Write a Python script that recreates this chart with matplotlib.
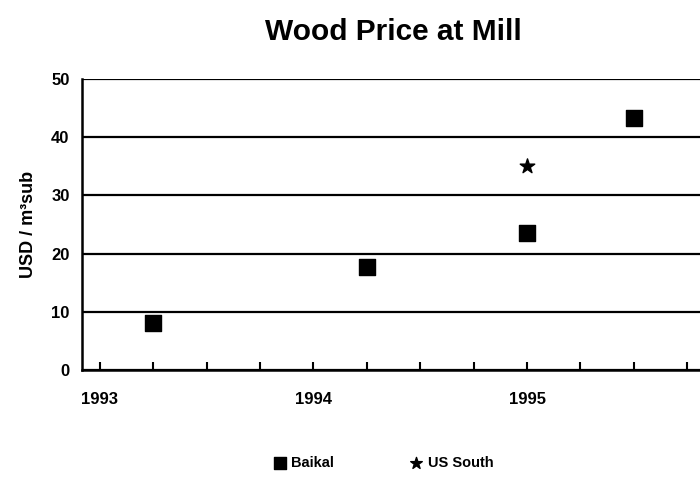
import matplotlib
matplotlib.use("Agg")
import matplotlib.pyplot as plt
from matplotlib.ticker import FixedLocator

plt.rcParams['font.family'] = ['Liberation Sans', 'DejaVu Sans']
plt.rcParams['font.weight'] = 'bold'

baikal_x = [1993.25, 1994.25, 1995.0, 1995.5]
baikal_y = [8.0, 17.7, 23.5, 43.3]
us_south_x = [1995.0]
us_south_y = [35.0]
year_ticks = [1993, 1994, 1995]
quarter_ticks = [1993 + 0.25 * i for i in range(12)]
y_ticks = [0, 10, 20, 30, 40, 50]

fig = plt.figure(figsize=(7, 4.96), dpi=100)
ax = fig.add_axes([82 / 700, 126 / 496, 1 - 82 / 700, 291 / 496])

ax.scatter(baikal_x, baikal_y, marker='s', s=135, color='black', label='Baikal', zorder=3)
ax.scatter(us_south_x, us_south_y, marker='*', s=120, color='black', label='US South', zorder=3)

ax.set_xlim(1992.916, 1995.81)
ax.set_ylim(0, 50)
ax.set_yticks(y_ticks)
ax.set_xticks(year_ticks)
ax.set_xticklabels([str(y) for y in year_ticks])
ax.xaxis.set_minor_locator(FixedLocator(quarter_ticks))
ax.tick_params(axis='x', which='both', direction='in', length=6, width=1.5, pad=16, labelsize=12)
ax.tick_params(axis='y', which='both', length=0, pad=9, labelsize=12)
for lbl in ax.get_xticklabels() + ax.get_yticklabels():
    lbl.set_fontweight('bold')

ax.grid(axis='y', color='black', linewidth=1.6)
ax.set_axisbelow(True)
for side in ['left', 'bottom', 'top']:
    ax.spines[side].set_linewidth(1.8)
ax.spines['right'].set_visible(False)
ax.spines['top'].set_visible(False)

ax.set_ylabel('USD / m³sub', fontsize=13, fontweight='bold', labelpad=10)
fig.text(393 / 700, 1 - 32 / 496, 'Wood Price at Mill', ha='center', va='center',
         fontsize=21.5, fontweight='heavy')

leg = fig.legend(loc='center', bbox_to_anchor=(382 / 700, 1 - 463 / 496), ncol=2,
                 frameon=False, fontsize=10.5, markerscale=0.8, columnspacing=5.0,
                 handletextpad=0.2, handlelength=1.2)
for t in leg.get_texts():
    t.set_fontweight('bold')

fig.savefig('out.png', dpi=100)
